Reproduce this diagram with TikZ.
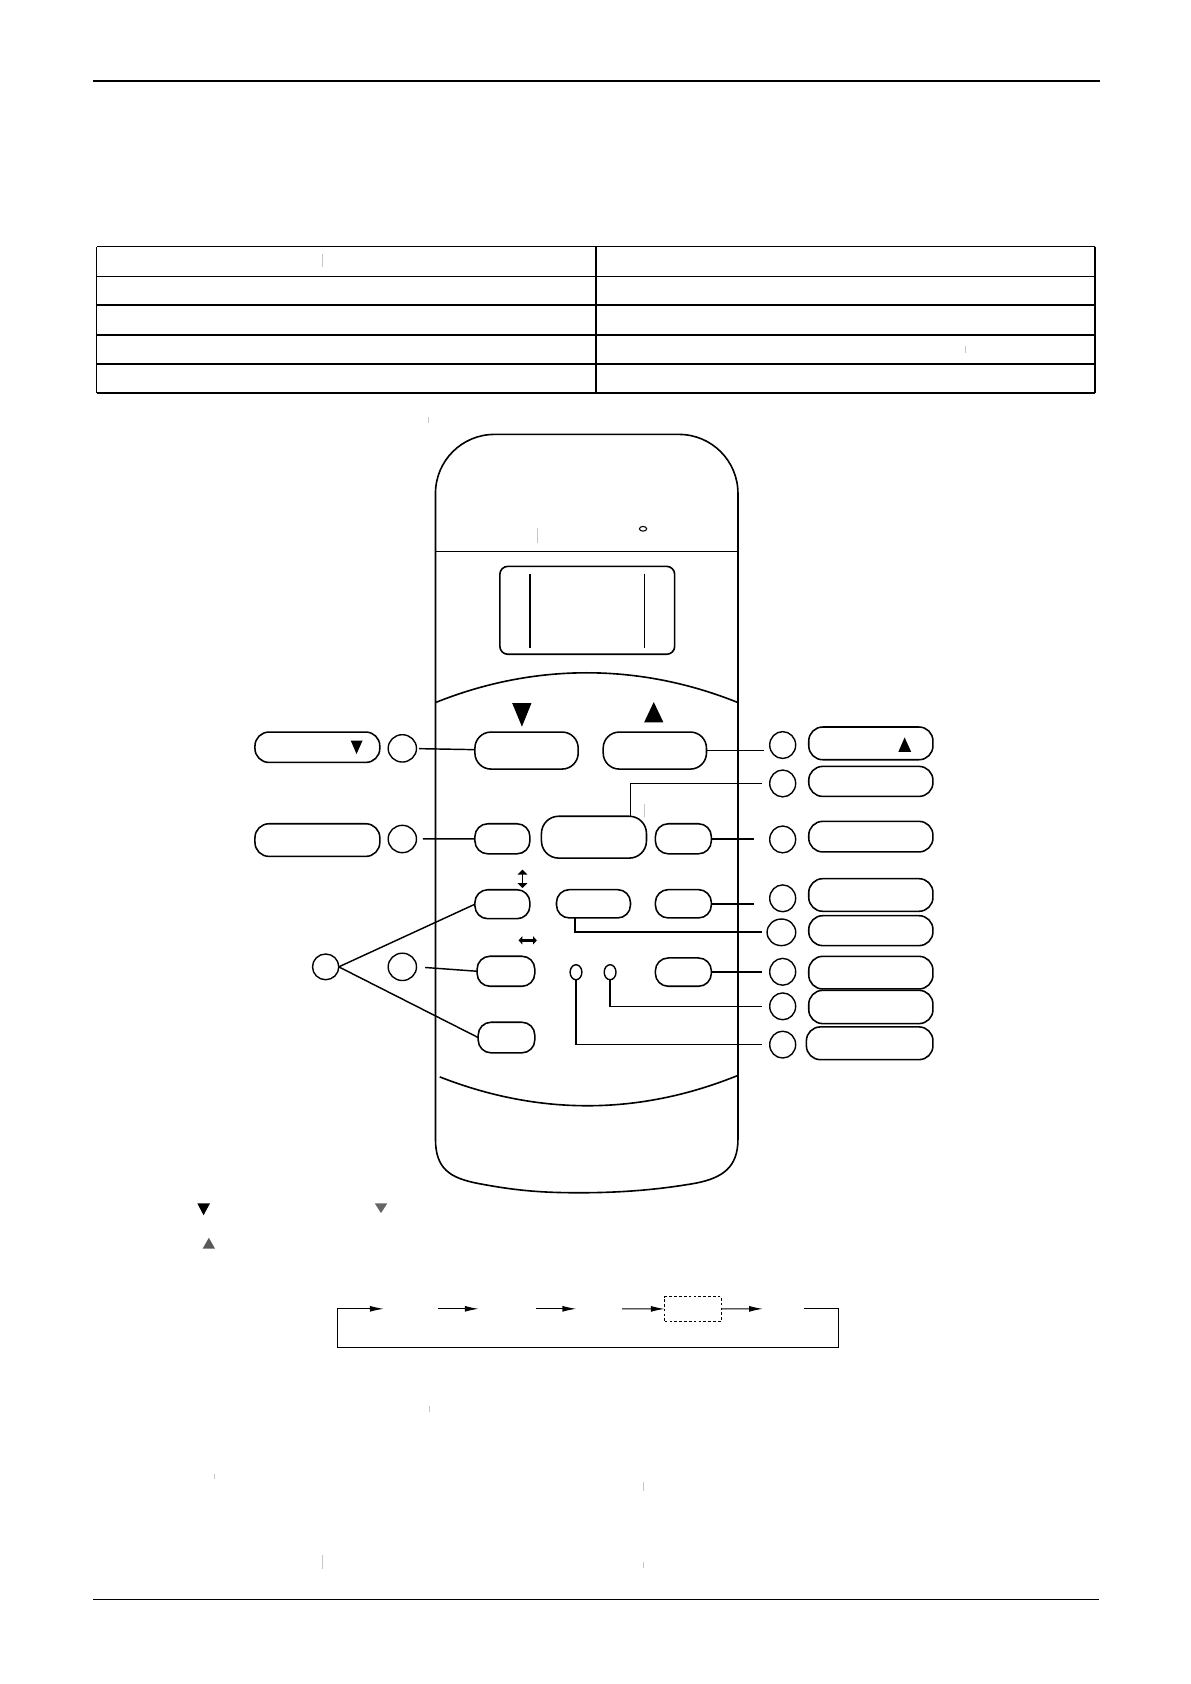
\documentclass[tikz,border=0pt]{standalone}
\usepackage{tikz}
\usetikzlibrary{arrows.meta, positioning, shapes.geometric, calc}

\tikzset{
  remote/.style={line width=1.5pt},
  btn/.style={draw, line width=1.45pt, rounded corners=12pt, inner sep=0pt, outer sep=0pt},
  tag/.style={draw, line width=1.45pt, rounded corners=13pt, inner sep=0pt, outer sep=0pt, minimum width=115.8pt},
  callout/.style={draw, ellipse, line width=1.3pt, inner sep=0pt, outer sep=0pt, minimum width=24.2pt, minimum height=25pt},
  lead/.style={line width=1.35pt},
  slot/.style={inner sep=0pt, outer sep=0pt, minimum height=2pt},
  flow/.style={line width=1pt, -{Latex[length=13pt,width=5.5pt]}},
  grid/.style={line width=1.3pt},
}

\begin{document}
\begin{tikzpicture}[x=1pt, y=-1pt]
\useasboundingbox (0,0) rectangle (1110,1570);

% page rules
\draw[line width=1.1pt] (86.5,75.5) -- (1025.5,75.5);
\draw[line width=1.2pt] (87,1491.4) -- (1025,1491.4);

% table
\foreach \y in {229.9,257.5,284.5,312.5,339.5,366.5} {
    \draw[grid] (90,\y) -- (1021,\y);
}
\foreach \x in {90,555.6,1021} {
    \draw[grid] (\x,229.9) -- (\x,366.5);
}

% remote body
\draw[remote, rounded corners=55pt] (406,1062) -- (406,405) -- (688,405) -- (688,1062);
\draw[remote] (406,1062) .. controls (406,1090) and (420,1098) .. (444,1103)
    .. controls (480,1110) and (505,1112) .. (540,1112)
    .. controls (580,1112) and (615,1109) .. (649,1103)
    .. controls (674,1098) and (688,1088) .. (688,1062);
\draw[remote] (406,514) -- (688,514);
\draw[line width=1pt] (599.5,493) ellipse [x radius=3.4pt, y radius=2.2pt];
\draw[remote, rounded corners=7.5pt] (466,528) rectangle (629,610);
\draw[remote] (494,535) -- (494,604.5);
\draw[remote] (601,535) -- (601,604.5);
\draw[remote] (406,655) .. controls (498,618) and (596,618) .. (688,655);
\draw[remote] (410,1004) .. controls (502,1040) and (595,1040) .. (687,1003);

% keys
\node[btn, rounded corners=15pt, minimum width=96.3pt, minimum height=34.5pt] (kdown) at (490.9,699.75) {};
\node[btn, rounded corners=15pt, minimum width=96.3pt, minimum height=34.5pt] (kup) at (610.5,699.75) {};
\node[btn, minimum width=51.3pt, minimum height=28pt] (ksleep) at (468.4,782) {};
\node[btn, rounded corners=16pt, minimum width=97.9pt, minimum height=39pt] (kpower) at (553.75,780.5) {};
\node[btn, minimum width=52.2pt, minimum height=28pt] (kmode) at (637.1,782) {};
\node[btn, minimum width=51.3pt, minimum height=27pt] (kswingv) at (468.4,843) {};
\node[btn, minimum width=69pt, minimum height=26.4pt] (kfan) at (553.3,842.6) {};
\node[btn, minimum width=52.2pt, minimum height=26.4pt] (ktimer) at (637.1,842.6) {};
\node[btn, minimum width=53.8pt, minimum height=28pt] (kswingh) at (471.7,905.5) {};
\node[btn, minimum width=52.2pt, minimum height=26.4pt] (kturbo) at (637.1,906.3) {};
\node[btn, minimum width=52.8pt, minimum height=28.5pt] (kextra) at (472.2,967.3) {};
\node[draw, ellipse, line width=1.3pt, inner sep=0pt, minimum width=11pt, minimum height=14pt] (e1) at (537,906.4) {};
\node[draw, ellipse, line width=1.3pt, inner sep=0pt, minimum width=11pt, minimum height=14pt] (e2) at (568.8,906.4) {};

% key marks
\fill (477.5,655.5) -- (495.5,655.5) -- (486.6,677.5) -- cycle;
\fill (600.5,673.5) -- (618.5,673.5) -- (609.5,654.5) -- cycle;
\draw[line width=1.5pt, {Triangle[length=4.5pt,width=9pt]}-{Triangle[length=4.5pt,width=9pt]}] (487.1,810.8) -- (487.1,827.9);
\draw[line width=2.6pt, {Triangle[length=3.5pt,width=7.5pt]}-{Triangle[length=3.5pt,width=7.5pt]}] (483.5,876.7) -- (500.5,876.7);

% left callouts
\node[tag, minimum width=116.4pt, minimum height=28.3pt] (l1) at (295.9,696.65) {};
\node[tag, minimum width=116.4pt, minimum height=30.4pt] (l2) at (295.9,783.2) {};
\fill (327,690.5) -- (338,690.5) -- (332.4,703) -- cycle;
\node[callout, minimum width=26.4pt, minimum height=25.5pt] (c1) at (375.1,697.7) {};
\node[callout, minimum width=26.4pt, minimum height=25.5pt] (c2) at (375.1,782.2) {};
\node[callout, minimum width=24.5pt, minimum height=24pt] (c3) at (303.6,901.4) {};
\node[callout, minimum width=26.4pt, minimum height=25.5pt] (c4) at (375.1,901.4) {};

\draw[lead, shorten <=2.5pt] (c1) -- (kdown);
\draw[lead, shorten <=6pt] (c2) -- (ksleep);
\draw[lead] (c3.east) -- (kswingv.west);
\draw[lead] (c3.east) -- (kextra.west);
\draw[lead, shorten <=8pt] (c4.east) -- (kswingh.west);

% right callouts
\foreach \n/\y in {1/694.6, 2/730.4, 3/782.6, 4/837.5, 6/906, 7/938.2, 8/973.9} {
    \node[callout] (r\n) at (729.7,\y) {};
}
\node[callout, minimum width=26.7pt, minimum height=24.8pt] (r5) at (728.5,869.2) {};
\foreach \n/\y/\h in {1/693.05/30.5, 2/728.5/28, 3/780/28.5, 4/834.4/30.4, 5/867.65/27.9, 6/906.8/30.4, 7/938.8/31} {
    \node[tag, minimum height=\h pt] (m\n) at (811.9,\y) {};
}
\node[tag, minimum width=118pt, minimum height=30.5pt] (m8) at (810.8,972.65) {};
\fill (837.5,701) -- (849.5,701) -- (843.4,687.5) -- cycle;

\coordinate (rend) at (710,0);
\coordinate (rendb) at (703,0);
\draw[lead] (kup.east) -- ($(kup.east -| rend)+(2,0)$);
\draw[lead] ($(kpower.north east)+(-15,0)$) |- (r2 -| rend);
\draw[lead] (kmode.east) -- (kmode.east -| rendb);
\draw[lead] (ktimer.east) -- (ktimer.east -| rendb);
\draw[lead, line width=2pt] ($(kfan.south west)+(17,0)$) |- (r5 -| rend);
\draw[lead] (kturbo.east) -- (kturbo.east -| rend);
\draw[lead] (e2.south) |- (r7 -| rend);
\draw[lead] (e1.south) |- (r8 -| rend);

% marks under the remote
\fill (184,1122) -- (195.7,1122) -- (189.8,1133) -- cycle;
\fill[black!60] (349.5,1122) -- (361,1122) -- (355.2,1131) -- cycle;
\fill[black!65] (189,1164) -- (200.4,1164) -- (194.7,1154) -- cycle;

% cycle diagram
\node[slot, minimum width=50.6pt] (t1) at (383.2,1220.2) {};
\node[slot, minimum width=53.1pt] (t2) at (472.95,1220.2) {};
\node[slot, minimum width=42.6pt] (t3) at (558.7,1220.2) {};
\node[draw, dashed, dash pattern=on 2.5pt off 2pt, line width=0.9pt, inner sep=0pt, outer sep=0pt,
      minimum width=52.8pt, minimum height=22.7pt] (dbox) at (646.2,1220.35) {};
\node[slot, minimum width=37.9pt] (t5) at (730.35,1220.2) {};
\coordinate (loopr) at (781.3,1256.6);
\coordinate (loopl) at (314.4,1256.6);
\draw[flow] (t5.east) -| (loopr) -- (loopl) |- (t1.west);
\foreach \u/\v in {t1/t2, t2/t3, t3/dbox, dbox/t5} {
    \draw[flow] (\u) -- (\v);
}

% faint stray marks
\foreach \x/\ya/\yb in {300/237/249, 399/389/394, 500.7/492/506, 601/750/762, 900/323/329,
                         400/1311/1316, 200/1374/1379, 600/1382/1390, 300/1450/1463, 600/1456/1462} {
    \draw[gray!45, line width=0.5pt] (\x,\ya) -- (\x,\yb);
}
\end{tikzpicture}
\end{document}
